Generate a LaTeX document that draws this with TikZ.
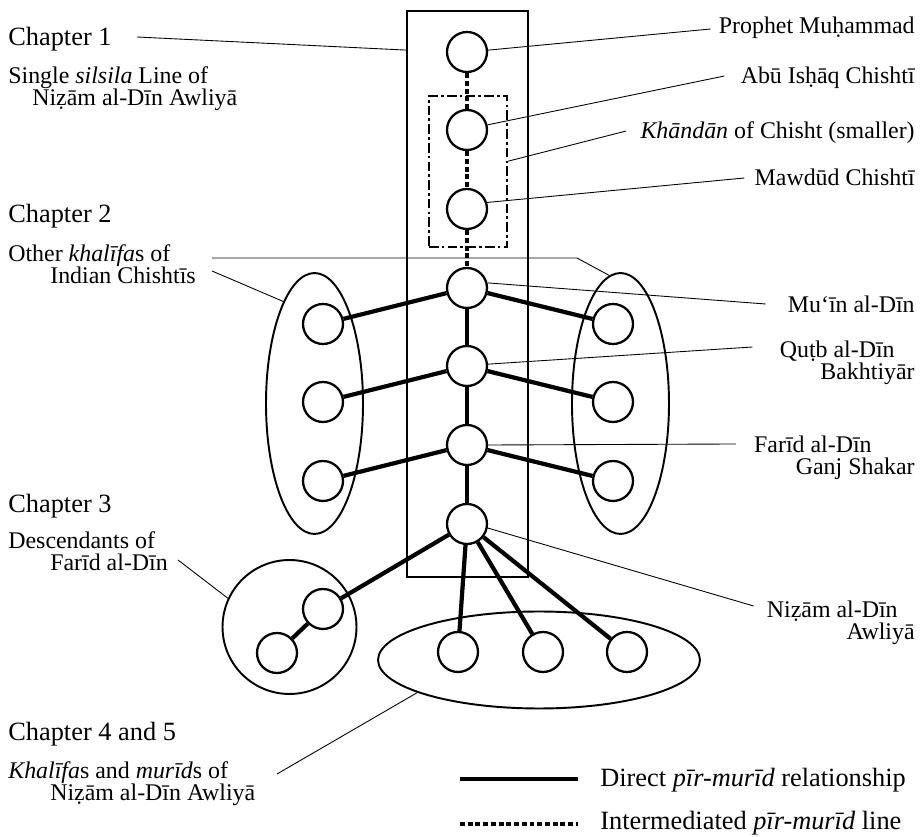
\documentclass[tikz,border=0pt]{standalone}
\usepackage{fontspec}
\setmainfont{Liberation Serif}
\usetikzlibrary{shapes.geometric}
\usetikzlibrary{calc}

\begin{document}
\begin{tikzpicture}[x=0.02cm,y=-0.02cm,
	every node/.style={font=\fontsize{13.6}{13}\selectfont},
	pers/.style={circle,draw,line width=1.3pt,fill=white,inner sep=0pt,minimum size=0.8cm},
	grp/.style={ellipse,draw,line width=1.1pt,inner sep=0pt},
	direct/.style={line width=2.4pt},
	intermed/.style={line width=2.4pt,dash pattern=on 2.8pt off 1.6pt},
	lead/.style={line width=0.5pt},
	txt/.style={inner sep=0pt},
	big/.style={txt,font=\fontsize{15}{13}\selectfont}]
	\useasboundingbox (0,0) rectangle (921,837);

	% boxes and groups
	\node[draw,line width=1.1pt,minimum width=2.42cm,minimum height=11.32cm] (silsila) at (467.5,294) {};
	\node[draw,line width=0.8pt,dash pattern=on 5.5pt off 1.8pt on 1.5pt off 1.8pt,minimum width=1.56cm,minimum height=3.02cm] (khandan) at (468,171.5) {};
	\node[grp,minimum width=1.94cm,minimum height=5.22cm] (lgrp) at (314.5,403.5) {};
	\node[grp,minimum width=1.94cm,minimum height=5.22cm] (rgrp) at (620.5,403.5) {};
	\node[grp,circle,minimum size=2.68cm] (desc) at (289.5,627) {};
	\node[grp,minimum width=6.44cm,minimum height=1.94cm] (bgrp) at (539,660) {};

	% silsila line
	\node[pers] (proph) at (467,52) {};
	\node[pers] (abu) at (467,130) {};
	\node[pers] (mawdud) at (467,209) {};
	\node[pers] (muin) at (467,288) {};
	\node[pers] (qutb) at (467,366) {};
	\node[pers] (farid) at (467,445) {};
	\node[pers] (nizam) at (467,524) {};

	% other khalifas
	\node[pers] (l1) at (323,324) {};
	\node[pers] (l2) at (323,402) {};
	\node[pers] (l3) at (323,481) {};
	\node[pers] (r1) at (613,324) {};
	\node[pers] (r2) at (613,402) {};
	\node[pers] (r3) at (613,481) {};

	% descendants and murids
	\node[pers] (d1) at (323,609) {};
	\node[pers] (d2) at (277,653) {};
	\node[pers] (b1) at (458,652) {};
	\node[pers] (b2) at (543,652) {};
	\node[pers] (b3) at (627,652) {};

	% pir-murid links
	\draw[intermed] (proph) -- (abu);
	\draw[intermed] (abu) -- (mawdud);
	\draw[intermed] (mawdud) -- (muin);
	\draw[direct] (muin) -- (qutb);
	\draw[direct] (qutb) -- (farid);
	\draw[direct] (farid) -- (nizam);
	\draw[direct] (muin) -- (l1);
	\draw[direct] (muin) -- (r1);
	\draw[direct] (qutb) -- (l2);
	\draw[direct] (qutb) -- (r2);
	\draw[direct] (farid) -- (l3);
	\draw[direct] (farid) -- (r3);
	\draw[direct] (nizam) -- (d1);
	\draw[direct] (d1) -- (d2);
	\draw[direct] (nizam) -- (b1);
	\draw[direct] (nizam) -- (b2);
	\draw[direct] (nizam) -- (b3);

	% left texts
	\node[big,anchor=base west] (ch1) at (8,46) {Chapter 1};
	\node[txt,anchor=base west,align=left] (sil) at (8,106) {Single \textit{silsila} Line of\\\hspace*{0.48cm}Niẓām al-Dīn Awliyā};
	\node[big,anchor=base west] (ch2) at (8,223) {Chapter 2};
	\node[txt,anchor=base west,align=left] (okh) at (8,284) {Other \textit{khalīfa}s of\\\hspace*{0.84cm}Indian Chishtīs};
	\node[big,anchor=base west] (ch3) at (8,513) {Chapter 3};
	\node[txt,anchor=base west,align=left] (desctxt) at (8,571) {Descendants of\\\hspace*{0.84cm}Farīd al-Dīn};
	\node[big,anchor=base west] (ch4) at (8,741) {Chapter 4 and 5};
	\node[txt,anchor=base west,align=left] (km) at (8,801) {\textit{Khalīfa}s and \textit{murīd}s of\\\hspace*{0.84cm}Niẓām al-Dīn Awliyā};

	% right texts
	\node[txt,anchor=base east] (prophtxt) at (915,34) {Prophet Muḥammad};
	\node[txt,anchor=base east] (abutxt) at (915,84) {Abū Isḥāq Chishtī};
	\node[txt,anchor=base east] (khtxt) at (915,139) {\textit{Khāndān} of Chisht (smaller)};
	\node[txt,anchor=base east] (mawtxt) at (915,186) {Mawdūd Chishtī};
	\node[txt,anchor=base east] (muintxt) at (915,313) {Mu‘īn al-Dīn};
	\node[txt,anchor=base east,align=right] (qutbtxt) at (915,380) {Quṭb al-Dīn\hspace*{0.4cm}\\Bakhtiyār};
	\node[txt,anchor=base east,align=right] (faridtxt) at (915,475) {Farīd al-Dīn\hspace*{0.86cm}\\Ganj Shakar};
	\node[txt,anchor=base east,align=right] (nizamtxt) at (915,640) {Niẓām al-Dīn\hspace*{0.34cm}\\Awliyā};

	% leader lines
	\coordinate (ch1end) at (137,37);
	\coordinate (okh1) at (212,258);
	\coordinate (okh2) at (212,271);
	\coordinate (descend) at (178,560);
	\coordinate (kmend) at (277,774);
	\draw[lead] (ch1end) -- ($(silsila.north west)+(0,40)$);
	\draw[lead] (okh1) -- (577,258) -- (rgrp.95);
	\draw[lead] (okh2) -- (lgrp.107);
	\draw[lead] (descend) -- (desc.155);
	\draw[lead] (kmend) -- (bgrp.195);
	\draw[lead] (proph.5) -- ($(prophtxt.base west)+(-8,-5)$);
	\draw[lead] (abu.14) -- ($(abutxt.base west)+(-16,-8)$);
	\draw[lead] ($(khandan.north east)+(0,66)$) -- ($(khtxt.base west)+(-14,-8)$);
	\draw[lead] (mawdud.18) -- ($(mawtxt.base west)+(-10,-8)$);
	\draw[lead] (muin.14) -- ($(muintxt.base west)+(-22,-9)$);
	\draw[lead] (qutb.5) -- ($(qutbtxt.base west)+(-27,-33)$);
	\draw[lead] (farid.0) -- ($(faridtxt.base west)+(-18,-31)$);
	\draw[lead] (nizam.-11) -- ($(nizamtxt.base west)+(-13,-34)$);

	% legend
	\node[big,anchor=base west] (legd) at (600,787) {Direct \textit{pīr-murīd} relationship};
	\node[big,anchor=base west] (legi) at (600,830) {Intermediated \textit{pīr-murīd} line};
	\draw[direct] (460,779) -- (578,779);
	\draw[intermed] (460,824) -- (578,824);
\end{tikzpicture}
\end{document}
